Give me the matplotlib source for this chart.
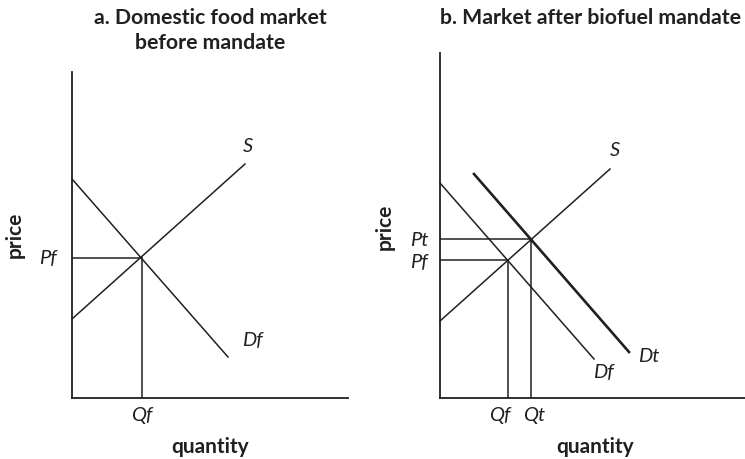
import matplotlib
matplotlib.use("Agg")
import matplotlib.pyplot as plt

W, H = 745, 459
INK = "#231f20"
plt.rcParams['font.family'] = ['Lato', 'DejaVu Sans']

# ---- data (axis units, origin at the axes corner) ----
# Panel a
a_xlim = (0, 276)
a_ylim = (0, 326)
a_supply_q = [0, 173]
a_supply_p = [79, 234]
a_demand_q = [0, 156]
a_demand_p = [219, 41]
a_eq_q = 70
a_eq_p = 140

# Panel b
b_xlim = (0, 305)
b_ylim = (0, 345)
b_supply_q = [0, 170]
b_supply_p = [77, 229]
b_df_q = [0, 154]
b_df_p = [215, 39]
b_dt_q = [34, 189]
b_dt_p = [224, 46]
b_eqf_q, b_eqf_p = 68, 138
b_eqt_q, b_eqt_p = 91, 159

TITLE_FS = 15.3
AXLAB_FS = 15
LAB_FS = 14.5

fig = plt.figure(figsize=(W / 100, H / 100), dpi=100)
fig.patch.set_facecolor("white")


def px_axes(left, top, right, bottom):
    return fig.add_axes([left / W, 1 - bottom / H, (right - left) / W, (bottom - top) / H])


def ftext(x, y, s, **kw):
    kw.setdefault("color", INK)
    fig.text(x / W, 1 - y / H, s, **kw)


def style(ax, xlim, ylim):
    ax.set_xlim(*xlim)
    ax.set_ylim(*ylim)
    for sp in ("top", "right"):
        ax.spines[sp].set_visible(False)
    for sp in ("left", "bottom"):
        ax.spines[sp].set_color(INK)
        ax.spines[sp].set_linewidth(1.3)
    ax.set_xticks([])
    ax.set_yticks([])
    ax.patch.set_alpha(0)


lw = 1.1


def lab(ax, x, y, s):
    ax.text(x, y, s, style="italic", fontsize=LAB_FS, ha="center", va="center", color=INK)


# ---------- Panel a ----------
axa = px_axes(72, 72, 348, 398)
style(axa, a_xlim, a_ylim)
axa.plot(a_supply_q, a_supply_p, color=INK, lw=lw, clip_on=False)
axa.plot(a_demand_q, a_demand_p, color=INK, lw=lw, clip_on=False)
axa.plot([0, a_eq_q], [a_eq_p, a_eq_p], color=INK, lw=lw)
axa.plot([a_eq_q, a_eq_q], [0, a_eq_p], color=INK, lw=lw)
lab(axa, -24, a_eq_p, "Pf")
lab(axa, a_eq_q, -17, "Qf")
lab(axa, a_supply_q[1] + 3, a_supply_p[1] + 17, "S")
lab(axa, a_demand_q[1] + 24, a_demand_p[1] + 17, "Df")

ftext(210, 18, "a. Domestic food market", fontsize=TITLE_FS, fontweight="bold", ha="center", va="center")
ftext(210, 43, "before mandate", fontsize=TITLE_FS, fontweight="bold", ha="center", va="center")
ftext(15, 235, "price", fontsize=AXLAB_FS, fontweight="bold", ha="center", va="center", rotation=90)
ftext(210, 447, "quantity", fontsize=AXLAB_FS, fontweight="bold", ha="center", va="center")

# ---------- Panel b ----------
axb = px_axes(440, 53, 745, 398)
style(axb, b_xlim, b_ylim)
axb.plot(b_supply_q, b_supply_p, color=INK, lw=lw, clip_on=False)
axb.plot(b_df_q, b_df_p, color=INK, lw=lw, clip_on=False)
axb.plot(b_dt_q, b_dt_p, color=INK, lw=1.9, clip_on=False)
axb.plot([0, b_eqf_q], [b_eqf_p, b_eqf_p], color=INK, lw=lw)
axb.plot([b_eqf_q, b_eqf_q], [0, b_eqf_p], color=INK, lw=lw)
axb.plot([0, b_eqt_q], [b_eqt_p, b_eqt_p], color=INK, lw=lw)
axb.plot([b_eqt_q, b_eqt_q], [0, b_eqt_p], color=INK, lw=lw)
lab(axb, -21, b_eqt_p - 2, "Pt")
lab(axb, -21, b_eqf_p - 2, "Pf")
lab(axb, b_eqf_q - 8, -17, "Qf")
lab(axb, b_eqt_q + 3, -17, "Qt")
lab(axb, b_supply_q[1] + 5, b_supply_p[1] + 18, "S")
lab(axb, b_df_q[1] + 9, b_df_p[1] - 14, "Df")
lab(axb, b_dt_q[1] + 20, b_dt_p[1] - 5, "Dt")

ftext(590, 18, "b. Market after biofuel mandate", fontsize=TITLE_FS, fontweight="bold", ha="center", va="center")
ftext(385, 227, "price", fontsize=AXLAB_FS, fontweight="bold", ha="center", va="center", rotation=90)
ftext(595, 447, "quantity", fontsize=AXLAB_FS, fontweight="bold", ha="center", va="center")

fig.savefig("out.png", dpi=100, facecolor="white")
